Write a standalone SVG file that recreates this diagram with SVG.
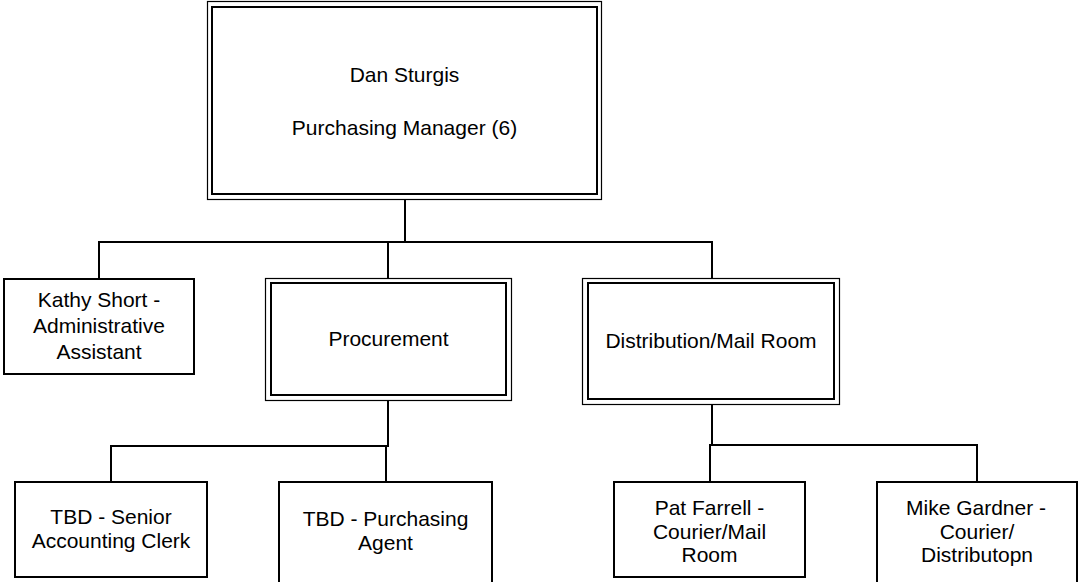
<svg xmlns="http://www.w3.org/2000/svg" width="1078" height="582" viewBox="0 0 1078 582">
  <style>
    .bg { fill: #ffffff; }
    .box { fill: #ffffff; stroke: #000000; stroke-width: 2; }
    .outer { fill: #ffffff; stroke: #000000; stroke-width: 1.2; }
    .inner { fill: none; stroke: #000000; stroke-width: 2; }
    .link { fill: none; stroke: #000000; stroke-width: 2; }
    text { font-family: "Liberation Sans", Arial, sans-serif; font-size: 21px; fill: #000000; text-anchor: middle; }
  </style>
  <rect class="bg" x="0" y="0" width="1078" height="582"/>

  <!-- reporting lines -->
  <g id="connectors">
    <path class="link" d="M405 200 V242 M98 242 H713 M99 242 V279 M388 242 V278 M712 242 V278"/>
    <path class="link" d="M388 401 V446 M110 446 H389 M111 446 V482 M386 446 V482"/>
    <path class="link" d="M712 405 V445 M709 445 H978 M710 445 V482 M977 445 V482"/>
  </g>

  <g id="node-dan-sturgis">
    <rect class="outer" x="207.5" y="1.5" width="394" height="198"/>
    <rect class="inner" x="212" y="7" width="385" height="187"/>
    <text x="404.5" y="82">Dan Sturgis</text>
    <text x="404.5" y="135">Purchasing Manager (6)</text>
  </g>

  <g id="node-kathy-short">
    <rect class="box" x="4" y="279" width="190" height="95"/>
    <text x="99" y="307">Kathy Short -</text>
    <text x="99" y="333">Administrative</text>
    <text x="99" y="359">Assistant</text>
  </g>

  <g id="node-procurement">
    <rect class="outer" x="265.5" y="278.5" width="246" height="122"/>
    <rect class="inner" x="271" y="283" width="235" height="112"/>
    <text x="388.5" y="346">Procurement</text>
  </g>

  <g id="node-distribution">
    <rect class="outer" x="582.5" y="278.5" width="257" height="126"/>
    <rect class="inner" x="588" y="283" width="246" height="116"/>
    <text x="711" y="348">Distribution/Mail Room</text>
  </g>

  <g id="node-senior-accounting-clerk">
    <rect class="box" x="15" y="482" width="192" height="95"/>
    <text x="111" y="524">TBD - Senior</text>
    <text x="111" y="548">Accounting Clerk</text>
  </g>

  <g id="node-purchasing-agent">
    <rect class="box" x="279" y="482" width="213" height="102"/>
    <text x="385.5" y="526">TBD - Purchasing</text>
    <text x="385.5" y="550">Agent</text>
  </g>

  <g id="node-pat-farrell">
    <rect class="box" x="614" y="482" width="191" height="95"/>
    <text x="709.5" y="515">Pat Farrell -</text>
    <text x="709.5" y="538.5">Courier/Mail</text>
    <text x="709.5" y="562">Room</text>
  </g>

  <g id="node-mike-gardner">
    <rect class="box" x="877" y="482" width="200" height="102"/>
    <text x="976" y="515">Mike Gardner -</text>
    <text x="977" y="538.5">Courier/</text>
    <text x="977" y="562">Distributopn</text>
  </g>
</svg>
